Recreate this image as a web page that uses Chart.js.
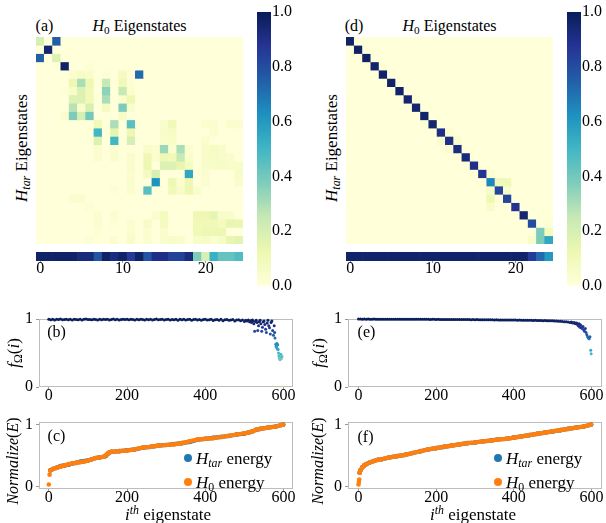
<!DOCTYPE html>
<html>
<head>
<meta charset="utf-8">
<script src="https://cdn.jsdelivr.net/npm/chart.js@4.4.1/dist/chart.umd.min.js"></script>
<style>
html,body{margin:0;padding:0;background:#fff;}
#root{position:relative;width:606px;height:523px;overflow:hidden;font-family:"Liberation Serif","DejaVu Serif",serif;color:#000;}
canvas{position:absolute;display:block;}
.lab{position:absolute;white-space:nowrap;font-size:16px;line-height:1;transform:translate(-50%,-50%);}
.rot{transform:translate(-50%,-50%) rotate(-90deg);}
.lab sub,.leg sub{font-size:0.7em;vertical-align:-0.3em;line-height:0;}
.lab sup{font-size:0.7em;vertical-align:0.5em;line-height:0;}
.leg{position:absolute;white-space:nowrap;font-size:17px;line-height:1;transform:translateY(-50%);}
.dot{position:absolute;width:8px;height:8px;border-radius:50%;transform:translate(-50%,-50%);}
</style>
</head>
<body>
<div id="root">
<canvas id="heatA" width="207" height="207" style="left:36px;top:37px"></canvas>
<canvas id="stripA" width="227" height="31" style="left:26px;top:252px"></canvas>
<canvas id="cbarA" width="50" height="300" style="left:257px;top:0px"></canvas>
<canvas id="heatD" width="207" height="207" style="left:346px;top:37px"></canvas>
<canvas id="stripD" width="227" height="31" style="left:336px;top:252px"></canvas>
<canvas id="cbarD" width="39" height="300" style="left:567px;top:0px"></canvas>
<canvas id="pB" width="300" height="100" style="left:0px;top:305px"></canvas>
<canvas id="pC" width="300" height="102" style="left:0px;top:405px"></canvas>
<canvas id="pE" width="297" height="100" style="left:309px;top:305px"></canvas>
<canvas id="pF" width="297" height="102" style="left:309px;top:405px"></canvas>

<div class="lab" style="left:44.5px;top:26px">(a)</div>
<div class="lab" style="left:139.5px;top:26px"><i>H</i><sub>0</sub> Eigenstates</div>
<div class="lab" style="left:354px;top:26px">(d)</div>
<div class="lab" style="left:449.5px;top:26px"><i>H</i><sub>0</sub> Eigenstates</div>
<div class="lab rot" style="left:21px;top:148px;font-size:17px"><i>H<sub>tar</sub></i> Eigenstates</div>
<div class="lab rot" style="left:331px;top:148px;font-size:17px"><i>H<sub>tar</sub></i> Eigenstates</div>

<div class="lab" style="left:56.5px;top:332px">(b)</div>
<div class="lab" style="left:56.5px;top:436px">(c)</div>
<div class="lab" style="left:366.5px;top:332px">(e)</div>
<div class="lab" style="left:365.5px;top:437px">(f)</div>
<div class="lab rot" style="left:13px;top:353px;font-size:17px"><i>f</i><sub>Ω</sub>(<i>i</i>)</div>
<div class="lab rot" style="left:318px;top:353px;font-size:17px"><i>f</i><sub>Ω</sub>(<i>i</i>)</div>
<div class="lab rot" style="left:13px;top:461px;font-size:16px"><i>Normalize</i>(<i>E</i>)</div>
<div class="lab rot" style="left:318px;top:461px;font-size:16px"><i>Normalize</i>(<i>E</i>)</div>
<div class="lab" style="left:168px;top:514px;font-size:17px"><i>i</i><sup><i>th</i></sup> eigenstate</div>
<div class="lab" style="left:473px;top:514px;font-size:17px"><i>i</i><sup><i>th</i></sup> eigenstate</div>

<div class="dot" style="left:188px;top:458px;background:#1f77b4"></div>
<div class="leg" style="left:196px;top:458px"><i>H<sub>tar</sub></i> energy</div>
<div class="dot" style="left:188px;top:482px;background:#ff7f0e"></div>
<div class="leg" style="left:196px;top:482px"><i>H</i><sub>0</sub> energy</div>
<div class="dot" style="left:498px;top:458px;background:#1f77b4"></div>
<div class="leg" style="left:506px;top:458px"><i>H<sub>tar</sub></i> energy</div>
<div class="dot" style="left:498px;top:482px;background:#ff7f0e"></div>
<div class="leg" style="left:506px;top:482px"><i>H</i><sub>0</sub> energy</div>
</div>

<script>
// ---------------- DATA ----------------
const states = [0,1,2,3,4,5,6,7,8,9,10,11,12,13,14,15,16,17,18,19,20,21,22,23,24];
const stripTicks = [0,10,20];
const cbarTicks = [0,0.2,0.4,0.6,0.8,1.0];
const xTicks = [0,200,400,600];
const yTicks = [0,1];

// (a) overlap matrix: rows = H_tar eigenstates, cols = H_0 eigenstates
const matA = [
[.20,0,.75,0,0,0,0,0,0,0,0,0,0,0,0,0,0,0,0,0,0,0,0,0,0],
[0,.95,0,0,0,0,0,0,0,0,0,0,0,0,0,0,0,0,0,0,0,0,0,0,0],
[.75,0,.18,0,0,0,0,0,0,0,0,0,0,0,0,0,0,0,0,0,0,0,0,0,0],
[0,0,0,.97,0,0,.02,0,0,0,0,0,0,0,0,0,0,0,0,0,0,0,0,0,0],
[0,0,0,0,.03,.06,.04,0,.02,0,.08,.01,.72,0,0,0,0,0,0,0,0,0,0,0,0],
[0,0,0,0,.12,.30,.12,0,.25,0,.10,.02,0,0,0,0,0,0,0,0,0,0,0,0,0],
[0,0,0,.02,.05,.18,.10,0,.35,0,.25,.03,0,0,0,0,0,0,0,0,0,0,0,0,0],
[0,0,0,0,.18,.18,.10,0,.30,0,.04,.12,0,0,0,0,0,0,0,0,0,0,0,0,0],
[0,0,0,0,.28,.04,.20,0,.08,0,.38,.04,0,0,0,0,0,0,0,0,0,0,0,0,0],
[0,0,0,.03,.38,.20,.40,0,0,0,.06,0,0,0,0,0,0,0,0,0,0,0,0,0,0],
[0,0,0,0,0,0,0,.10,0,.30,0,.45,0,0,0,.04,.10,0,0,0,.03,.03,0,.03,.03],
[0,0,0,0,0,0,0,.50,0,.15,0,.12,0,0,0,.05,.06,0,0,0,0,.03,0,0,0],
[0,0,0,0,0,0,0,.18,0,.50,0,.20,0,0,0,.04,.05,0,0,0,.03,0,0,0,0],
[0,0,0,0,0,0,0,.03,0,.03,0,0,0,.05,.03,.33,.03,.30,.03,0,.05,.07,.05,0,0],
[0,0,0,0,0,0,0,.03,0,.04,0,.04,0,.12,.03,.12,.10,.25,.04,0,.05,.06,.05,.04,0],
[0,0,0,0,0,0,0,0,0,0,0,.04,0,.12,0,.18,.18,.14,.08,0,.04,.05,.06,.05,.05],
[0,0,0,0,0,0,0,0,0,0,0,.03,0,.08,.20,0,0,0,.55,0,.03,0,0,0,.06],
[0,0,0,0,0,0,0,0,0,0,0,.04,0,0,.62,0,.12,.03,.12,0,.03,0,0,0,.04],
[0,0,0,0,0,0,0,0,0,.02,0,.03,0,.45,0,0,.10,.05,.12,.04,0,0,0,0,0],
[0,0,0,0,.03,.03,0,0,0,0,0,0,0,0,0,0,0,0,0,0,0,0,0,0,0],
[0,0,0,0,0,0,.02,0,0,0,0,0,0,0,0,0,0,0,0,0,0,0,0,0,0],
[0,0,0,0,0,0,0,.03,0,.03,0,0,0,0,.03,.08,0,0,0,.12,.12,.15,.05,.04,0],
[0,0,0,0,0,0,0,.03,0,.02,0,.03,0,.06,0,.08,0,0,0,.10,.10,.10,.08,.14,.13],
[0,0,0,0,0,0,0,.02,0,0,0,.03,0,.03,0,.04,0,0,0,.10,.12,.12,.12,0,0],
[0,0,0,0,0,0,.02,0,0,.03,0,.05,0,.03,0,.04,.05,.04,0,.05,.06,.03,.06,.14,.16]
];
const stripA = [.97,.97,.97,.97,.97,.93,.93,.78,.97,.92,.97,.86,.97,.78,.90,.90,.84,.84,.92,.38,.20,.52,.43,.43,.47];

// (d) overlap matrix
const matD = [
[.97,0,0,0,0,0,0,0,0,0,0,0,0,0,0,0,0,0,0,0,0,0,0,0,0],
[0,.97,0,0,0,0,0,0,0,0,0,0,0,0,0,0,0,0,0,0,0,0,0,0,0],
[0,0,.97,0,0,0,0,0,0,0,0,0,0,0,0,0,0,0,0,0,0,0,0,0,0],
[0,0,0,.96,.02,0,0,0,0,0,0,0,0,0,0,0,0,0,0,0,0,0,0,0,0],
[0,0,0,0,.96,0,0,0,0,0,0,0,0,0,0,0,0,0,0,0,0,0,0,0,0],
[0,0,0,0,0,.96,0,0,0,0,0,0,0,0,0,0,0,0,0,0,0,0,0,0,0],
[0,0,0,0,0,0,.96,0,0,0,0,0,0,0,0,0,0,0,0,0,0,0,0,0,0],
[0,0,0,0,0,0,0,.95,.02,0,0,0,0,0,0,0,0,0,0,0,0,0,0,0,0],
[0,0,0,0,0,0,0,0,.95,0,0,0,0,0,0,0,0,0,0,0,0,0,0,0,0],
[0,0,0,0,0,0,0,0,0,.96,0,0,0,0,0,0,0,0,0,0,0,0,0,0,0],
[0,0,0,0,0,0,0,0,0,.02,.95,0,0,0,0,0,0,0,0,0,0,0,0,0,0],
[0,0,0,0,0,0,0,0,0,0,0,.90,.03,0,0,0,0,0,0,0,0,0,0,0,0],
[0,0,0,0,0,0,0,0,0,0,0,.04,.90,.04,0,0,0,0,0,0,0,0,0,0,0],
[0,0,0,0,0,0,0,0,0,0,0,0,.03,.92,0,0,0,0,0,0,0,0,0,0,0],
[0,0,0,0,0,0,0,0,0,0,0,0,0,0,.93,0,0,0,0,0,0,0,0,0,0],
[0,0,0,0,0,0,0,0,0,0,0,0,0,0,0,.90,0,0,0,0,0,0,0,0,0],
[0,0,0,0,0,0,0,0,0,0,0,0,0,0,0,0,.88,.03,0,0,0,0,0,0,0],
[0,0,0,0,0,0,0,0,0,0,0,0,0,0,0,0,0,.65,.10,.10,0,0,0,0,0],
[0,0,0,0,0,0,0,0,0,0,0,0,0,0,0,0,0,.05,.82,.04,0,0,0,0,0],
[0,0,0,0,0,0,0,0,0,0,0,0,0,0,0,0,0,.12,0,.82,0,0,0,0,0],
[0,0,0,0,0,0,0,0,0,0,0,0,0,0,0,0,0,.05,0,0,.88,0,0,0,0],
[0,0,0,0,0,0,0,0,0,0,0,0,0,0,0,0,0,0,0,0,0,.95,0,0,0],
[0,0,0,0,0,0,0,0,0,0,0,0,0,0,0,0,0,0,0,0,0,0,.80,0,.02],
[0,0,0,0,0,0,0,0,0,0,0,0,0,0,0,0,0,0,0,0,0,0,0,.38,.08],
[0,0,0,0,0,0,0,0,0,0,0,0,0,0,0,0,0,0,0,0,0,0,.05,.38,.55]
];
const stripD = [.96,.96,.96,.96,.96,.96,.96,.96,.96,.96,.96,.96,.96,.96,.96,.96,.96,.96,.96,.96,.96,.96,.85,.72,.60];

// (b),(e) fidelity f_Omega(i)
const headIdx = [0,5,10,15,20,25,30,35,40,45,50,55,60,65,70,75,80,85,90,95,100,105,110,115,120,125,130,135,140,145,150,155,160,165,170,175,180,185,190,195,200,205,210,215,220,225,230,235,240,245,250,255,260,265,270,275,280,285,290,295,300,305,310,315,320,325,330,335,340,345,350,355,360,365,370,375,380,385,390,395,400,405,410,415,420,425,430,435,440,445,450,455,460,465,470,475,480,485,490,495,500];
const bHeadY = [0.995,0.99,0.998,0.985,0.996,0.992,0.999,0.988,0.994,0.997,
0.99,0.996,0.985,0.998,0.993,0.99,0.997,0.986,0.995,0.999,
0.991,0.994,0.988,0.997,0.993,0.985,0.998,0.99,0.995,0.992,
0.997,0.987,0.994,0.999,0.99,0.996,0.985,0.993,0.998,0.991,
0.995,0.988,0.997,0.992,0.985,0.996,0.99,0.998,0.993,0.987,
0.995,0.99,0.997,0.984,0.994,0.999,0.988,0.993,0.996,0.986,
0.992,0.998,0.985,0.994,0.99,0.997,0.983,0.995,0.989,0.996,
0.986,0.993,0.998,0.982,0.991,0.995,0.987,0.994,0.98,0.992,
0.997,0.984,0.99,0.995,0.978,0.989,0.993,0.983,0.996,0.975,
0.988,0.992,0.98,0.985,0.994,0.97,0.987,0.99,0.976,0.984,0.965];
const bTailX = [503,507,510,513,516,518,520,522,524,526,528,530,532,534,536,538,540,542,544,546,548,550,552,554,556,558,560,562,564,566,568,570,572,574,576,577,578,580,581,582,583,584,585,586,587,588,589,590,591,592,593,594,596,598];
const bTailY = [0.98,0.97,0.985,0.96,0.975,0.95,0.985,0.97,0.93,0.82,0.965,0.98,0.95,0.83,0.9,0.96,0.98,0.93,0.82,0.88,0.96,0.97,0.92,0.85,0.8,0.94,0.98,0.9,0.87,0.78,0.95,0.97,0.83,0.76,0.9,0.8,0.72,0.63,0.6,0.58,0.64,0.56,0.62,0.55,0.5,0.46,0.43,0.41,0.4,0.44,0.48,0.42,0.45,0.03];
const eHeadY = [0.999,0.999,0.998,0.999,0.998,0.999,0.998,0.998,0.999,0.998,
0.998,0.997,0.998,0.998,0.997,0.998,0.997,0.997,0.998,0.997,
0.997,0.996,0.997,0.997,0.996,0.997,0.996,0.996,0.997,0.996,
0.996,0.995,0.996,0.995,0.996,0.995,0.995,0.994,0.995,0.995,
0.994,0.995,0.994,0.994,0.993,0.994,0.993,0.994,0.993,0.992,
0.993,0.992,0.993,0.992,0.991,0.992,0.991,0.992,0.99,0.991,
0.99,0.991,0.99,0.989,0.99,0.989,0.988,0.989,0.988,0.988,
0.987,0.988,0.987,0.986,0.987,0.986,0.985,0.986,0.985,0.984,
0.984,0.985,0.983,0.984,0.982,0.983,0.981,0.982,0.98,0.981,
0.979,0.98,0.978,0.979,0.977,0.976,0.977,0.975,0.976,0.974,0.973];
const eTailX = [505,510,515,520,525,530,535,540,545,548,550,553,556,558,560,562,564,566,568,570,572,574,576,578,580,582,584,586,588,590,592,594,596,598,599];
const eTailY = [0.972,0.97,0.968,0.966,0.963,0.96,0.958,0.955,0.95,0.955,0.945,0.94,0.948,0.935,0.93,0.94,0.92,0.9,0.93,0.88,0.91,0.87,0.86,0.89,0.84,0.82,0.86,0.8,0.77,0.74,0.72,0.71,0.74,0.54,0.49];

// (c) normalized energies
const cX = [0,2,4,10,20,30,40,50,60,70,80,90,100,110,120,130,140,145,150,155,160,180,200,220,240,260,280,300,320,340,360,380,400,420,440,460,480,500,510,520,530,540,560,580,599];
const cH0 = [0.03,0.19,0.26,0.28,0.30,0.32,0.34,0.36,0.37,0.38,0.39,0.40,0.42,0.44,0.46,0.47,0.48,0.50,0.53,0.55,0.56,0.57,0.58,0.60,0.63,0.64,0.66,0.67,0.68,0.70,0.73,0.76,0.77,0.78,0.80,0.82,0.84,0.86,0.87,0.89,0.92,0.93,0.95,0.97,1.0];
const cHtar = [null,null,0.26,0.28,0.30,0.33,0.34,0.35,0.37,0.38,0.40,0.41,0.42,0.44,0.46,0.47,0.48,0.49,0.52,0.55,0.56,0.57,0.585,0.60,0.625,0.64,0.66,0.67,0.685,0.70,0.72,0.755,0.77,0.785,0.80,0.815,0.84,0.855,0.87,0.89,0.915,0.93,0.95,0.97,1.0];
// (f) normalized energies
const fX = [0,1,2,3,5,10,15,20,30,40,50,60,80,100,120,140,160,180,200,220,240,260,280,300,320,340,360,380,400,420,440,460,480,500,520,540,560,580,599];
const fH0 = [0.03,0.07,0.11,0.22,0.26,0.31,0.34,0.36,0.39,0.41,0.43,0.44,0.47,0.49,0.51,0.54,0.57,0.60,0.62,0.64,0.66,0.68,0.70,0.71,0.73,0.74,0.76,0.77,0.79,0.81,0.83,0.85,0.87,0.89,0.91,0.93,0.95,0.97,1.0];
const fHtar = [null,null,null,0.22,0.26,0.31,0.34,0.36,0.39,0.41,0.43,0.44,0.47,0.49,0.51,0.54,0.57,0.60,0.62,0.64,0.66,0.68,0.70,0.71,0.73,0.74,0.76,0.77,0.79,0.81,0.83,0.85,0.87,0.89,0.91,0.93,0.95,0.97,1.0];

// ---------------- RENDER ----------------
const YLGNBU = [[255,255,217],[237,248,177],[199,233,180],[127,205,187],[65,182,196],[29,145,192],[34,94,168],[37,52,148],[8,29,88]];
function ylgnbu(v){
  v = Math.max(0, Math.min(1, v));
  const t = v*8, i = Math.min(7, Math.floor(t)), f = t - i;
  const a = YLGNBU[i], b = YLGNBU[i+1];
  return 'rgb(' + [0,1,2].map(k => Math.round(a[k] + (b[k]-a[k])*f)).join(',') + ')';
}
const FONT = {family:'"Liberation Serif", "DejaVu Serif", serif', size:16, lineHeight:1};
const base = {responsive:false, animation:false, events:[], plugins:{legend:{display:false}, tooltip:{enabled:false}}};

const frame = {
  id:'frame',
  beforeDatasetsDraw(chart){
    const {ctx, chartArea:a} = chart;
    ctx.save(); ctx.strokeStyle = '#bdbdbd'; ctx.lineWidth = 1;
    ctx.strokeRect(Math.round(a.left)+0.5, Math.round(a.top)+0.5, Math.round(a.right-a.left)-1, Math.round(a.bottom-a.top)-1);
    ctx.restore();
  }
};

function heatmap(id, M){
  new Chart(document.getElementById(id), {
    type:'bar',
    data:{labels:states, datasets:M.map((row, r) => ({
      label:'row '+r, data:row.map(() => 1), backgroundColor:row.map(ylgnbu),
      borderWidth:0, barPercentage:1, categoryPercentage:1
    }))},
    options:Object.assign({}, base, {
      layout:{padding:0},
      scales:{x:{display:false, stacked:true}, y:{display:false, stacked:true, min:0, max:states.length, reverse:true}}
    })
  });
}
function strip(id, vals){
  new Chart(document.getElementById(id), {
    type:'bar',
    data:{labels:states, datasets:[{data:vals.map(() => 1), backgroundColor:vals.map(ylgnbu), borderWidth:0, barPercentage:1, categoryPercentage:1}]},
    options:Object.assign({}, base, {
      layout:{padding:{left:10, right:10, top:0, bottom:0}},
      scales:{
        x:{grid:{offset:false, drawOnChartArea:false, tickLength:2, color:c => stripTicks.includes(c.index) ? '#999' : 'rgba(0,0,0,0)'},
           border:{display:false},
           ticks:{autoSkip:false, maxRotation:0, padding:-2, font:FONT, color:'#000', callback:(v, i) => stripTicks.includes(states[i]) ? String(states[i]) : ''},
           afterFit:s => { s.height = 22; }},
        y:{display:false, min:0, max:1}
      }
    })
  });
}
function cbar(id, w){
  new Chart(document.getElementById(id), {
    type:'bar',
    data:{labels:['cb'], datasets:[{data:[[0,1]], borderWidth:0, barPercentage:1, categoryPercentage:1,
      backgroundColor:ctx => {
        const ch = ctx.chart, a = ch.chartArea;
        if (!a) return 'rgb(255,255,217)';
        const g = ch.ctx.createLinearGradient(0, a.bottom, 0, a.top);
        YLGNBU.forEach((c, k) => g.addColorStop(k/8, 'rgb(' + c.join(',') + ')'));
        return g;
      }}]},
    options:Object.assign({}, base, {
      layout:{padding:{top:12, bottom:14, left:0, right:0}},
      scales:{
        x:{display:false},
        y:{position:'right', min:0, max:1, grid:{display:false, drawTicks:false, tickLength:0}, border:{display:false},
           afterBuildTicks:s => { s.ticks = cbarTicks.map(v => ({value:v})); },
           ticks:{padding:1, font:FONT, color:'#000', callback:v => v.toFixed(1)},
           afterFit:s => { s.width = w; }}
      }
    })
  });
}
function panel(id, xr, yr, datasets, padTop, padRight){
  new Chart(document.getElementById(id), {
    type:'scatter',
    data:{datasets},
    options:Object.assign({}, base, {
      layout:{padding:{top:padTop, right:padRight, left:0, bottom:0}},
      scales:{
        x:{type:'linear', min:xr[0], max:xr[1],
           afterBuildTicks:s => { s.ticks = xTicks.map(v => ({value:v})); },
           ticks:{font:FONT, color:'#000', padding:-2, maxRotation:0, callback:v => String(v)},
           grid:{drawOnChartArea:false, tickLength:3, color:'#999'}, border:{display:false},
           afterFit:s => { s.height = 18; }},
        y:{type:'linear', min:yr[0], max:yr[1],
           afterBuildTicks:s => { s.ticks = yTicks.map(v => ({value:v})); },
           ticks:{font:FONT, color:'#000', padding:3, callback:v => String(v)},
           grid:{drawOnChartArea:false, tickLength:3, color:'#999'}, border:{display:false},
           afterFit:s => { s.width = 39; }}
      }
    }),
    plugins:[frame]
  });
}
function fidelity(hx, hy, tx, ty){
  const xs = hx.concat(tx), ys = hy.concat(ty);
  return [{data:xs.map((x, i) => ({x, y:ys[i]})), pointRadius:1.5, pointBorderWidth:0,
           pointBackgroundColor:ys.map(ylgnbu), showLine:false, clip:false}];
}
function energy(xs, h0, htar, iso){
  const mk = (ys, col, seg) => ({
    data:xs.map((x, i) => ({x, y:ys[i]})), showLine:true, borderColor:col, borderWidth:4.2,
    borderJoinStyle:'round', borderCapStyle:'round', spanGaps:false,
    pointRadius:2.3, pointBorderWidth:0, pointBackgroundColor:col, clip:false,
    segment: seg ? {borderColor:c => c.p0DataIndex < iso ? 'rgba(0,0,0,0)' : undefined} : undefined
  });
  return [mk(h0, '#ff7f0e', true), mk(htar, '#1f77b4', false)];
}

heatmap('heatA', matA);
heatmap('heatD', matD);
strip('stripA', stripA);
strip('stripD', stripD);
cbar('cbarA', 36);
cbar('cbarD', 25);
panel('pB', [-25, 624], [0, 1], fidelity(headIdx, bHeadY, bTailX, bTailY), 14, 7);
panel('pE', [-27, 627], [0, 1], fidelity(headIdx, eHeadY, eTailX, eTailY), 14, 2);
panel('pC', [-25, 624], [-0.042, 1.042], energy(cX, cH0, cHtar, 2), 17, 7);
panel('pF', [-27, 627], [-0.042, 1.042], energy(fX, fH0, fHtar, 3), 17, 2);
</script>
</body>
</html>
